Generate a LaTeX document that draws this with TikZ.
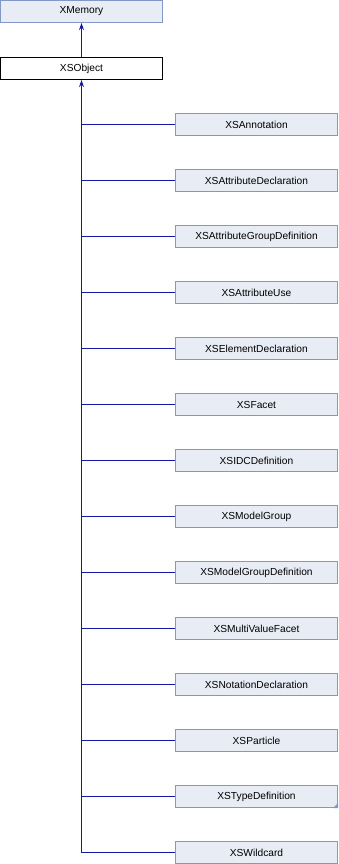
\documentclass[tikz,border=0pt]{standalone}
\usepackage{fontspec}
\setmainfont{Liberation Sans}
\usepackage{xcolor}
\usetikzlibrary{positioning,arrows.meta}

\definecolor{boxfill}{RGB}{232,236,245}
\definecolor{boxline}{RGB}{132,152,200}
\definecolor{edgeblue}{RGB}{24,24,168}

\begin{document}
\begin{tikzpicture}[
  x=1pt, y=-1pt,
  cls/.style={draw=boxline, fill=boxfill, line width=1pt, minimum width=162pt,
              minimum height=22pt, inner sep=0pt, font=\fontsize{10.2pt}{12pt}\selectfont},
  cur/.style={cls, draw=black, fill=white},
  arr/.style={{Stealth[length=7pt,width=5pt]}-, color=edgeblue, line width=1pt},
  link/.style={color=edgeblue, line width=1pt}
]
\useasboundingbox (0,0) rectangle (338,864);
\node[cls] (xmem) at (81.5,11.5) {XMemory};
\node[cur] (xsobj) at (81.5,68.5) {XSObject};
% derived classes
\foreach \name [count=\i] in {XSAnnotation,XSAttributeDeclaration,
    XSAttributeGroupDefinition,XSAttributeUse,XSElementDeclaration,XSFacet,
    XSIDCDefinition,XSModelGroup,XSModelGroupDefinition,XSMultiValueFacet,
    XSNotationDeclaration,XSParticle,XSTypeDefinition,XSWildcard}
  \node[cls] (c\i) at (256.5,{124.5+56*(\i-1)}) {\name};
% truncated marker
\fill[boxline] (c13.south east) -- ++(0,-5) -- ++(-5,5) -- cycle;
% edges
\draw[arr] (xmem) -- (xsobj);
\foreach \i in {1,...,14}
  \draw[link] (c\i.west) -- (c\i.west -| xsobj.south);
\coordinate (trunk) at (c14.west -| xsobj.south);
\draw[arr] (xsobj.south) -- (trunk);
\end{tikzpicture}
\end{document}
